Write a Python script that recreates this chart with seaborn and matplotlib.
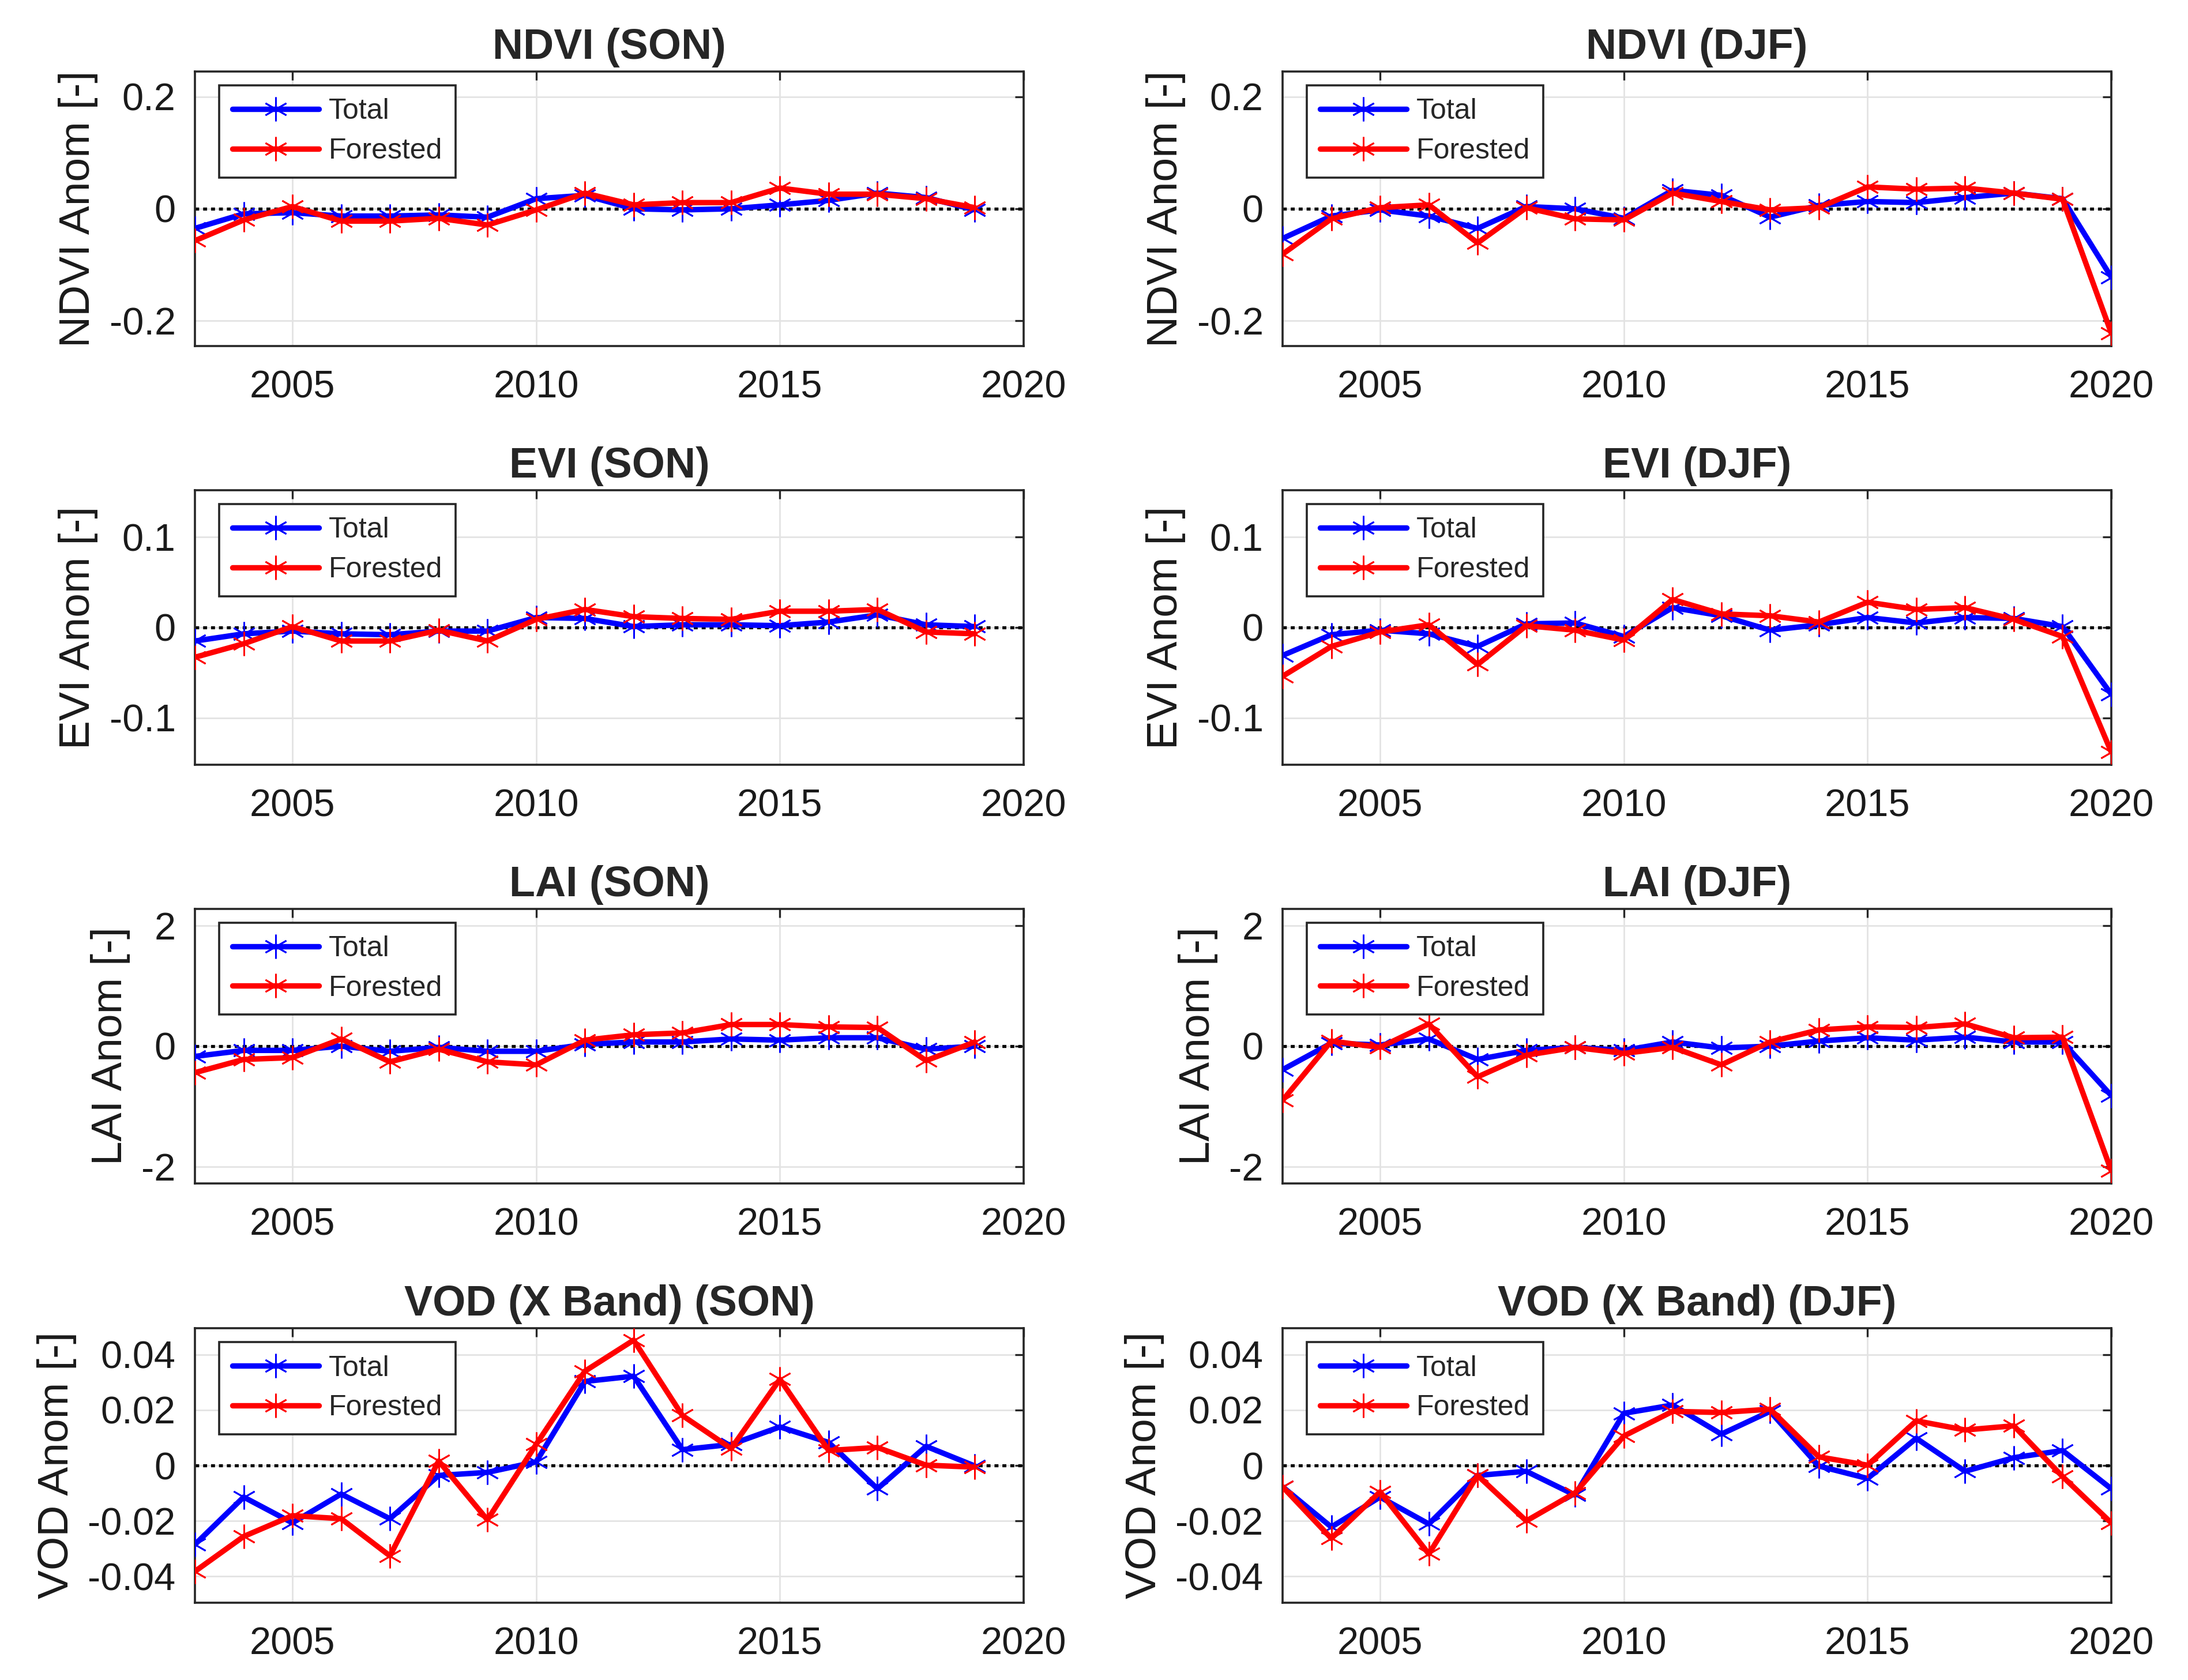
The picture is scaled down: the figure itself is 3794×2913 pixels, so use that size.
import numpy as np
import pandas as pd
import matplotlib
matplotlib.use("Agg")
import matplotlib.pyplot as plt
import seaborn as sns

sns.set_theme(style="white")
plt.rcParams['font.family'] = ['Liberation Sans', 'DejaVu Sans']
plt.rcParams['axes.unicode_minus'] = False

years_son = list(range(2003, 2020))
years_djf = list(range(2003, 2021))

ndvi_son_total = [-0.035, -0.009, -0.007, -0.013, -0.013, -0.011, -0.015, 0.018, 0.024, 0.0, -0.002, 0.0, 0.007, 0.015, 0.028, 0.020, -0.002]
ndvi_son_forest = [-0.057, -0.020, 0.004, -0.022, -0.022, -0.017, -0.029, -0.002, 0.028, 0.007, 0.011, 0.011, 0.037, 0.026, 0.026, 0.018, 0.002]
ndvi_djf_total = [-0.053, -0.013, -0.002, -0.013, -0.035, 0.004, 0.0, -0.017, 0.033, 0.024, -0.015, 0.006, 0.013, 0.011, 0.020, 0.028, 0.018, -0.122]
ndvi_djf_forest = [-0.081, -0.018, 0.002, 0.007, -0.061, 0.002, -0.018, -0.020, 0.028, 0.013, -0.002, 0.002, 0.039, 0.035, 0.037, 0.028, 0.017, -0.222]

evi_son_total = [-0.015, -0.007, -0.004, -0.007, -0.008, -0.004, -0.004, 0.011, 0.010, 0.001, 0.003, 0.003, 0.002, 0.006, 0.014, 0.003, 0.001]
evi_son_forest = [-0.033, -0.018, 0.001, -0.015, -0.015, -0.003, -0.015, 0.009, 0.020, 0.012, 0.010, 0.009, 0.018, 0.018, 0.020, -0.005, -0.007]
evi_djf_total = [-0.031, -0.008, -0.003, -0.007, -0.021, 0.004, 0.005, -0.010, 0.022, 0.013, -0.003, 0.003, 0.011, 0.005, 0.011, 0.010, 0.001, -0.074]
evi_djf_forest = [-0.054, -0.021, -0.005, 0.003, -0.041, 0.002, -0.003, -0.014, 0.031, 0.015, 0.013, 0.006, 0.028, 0.020, 0.022, 0.009, -0.010, -0.138]

lai_son_total = [-0.17, -0.07, -0.07, 0.0, -0.085, -0.02, -0.085, -0.085, 0.03, 0.07, 0.07, 0.12, 0.10, 0.14, 0.14, -0.05, 0.0]
lai_son_forest = [-0.44, -0.22, -0.19, 0.12, -0.26, -0.05, -0.26, -0.31, 0.10, 0.19, 0.22, 0.36, 0.36, 0.32, 0.31, -0.24, 0.07]
lai_djf_total = [-0.39, 0.05, 0.02, 0.12, -0.22, -0.07, -0.02, -0.07, 0.07, -0.03, 0.0, 0.085, 0.14, 0.10, 0.15, 0.07, 0.07, -0.82]
lai_djf_forest = [-0.90, 0.085, -0.02, 0.37, -0.51, -0.15, -0.02, -0.12, -0.02, -0.31, 0.07, 0.27, 0.32, 0.31, 0.37, 0.14, 0.15, -2.07]

vod_son_total = [-0.0285, -0.0114, -0.0207, -0.0103, -0.0192, -0.0036, -0.0025, 0.0013, 0.0303, 0.0322, 0.0057, 0.0076, 0.0139, 0.0083, -0.0084, 0.0069, -0.0002]
vod_son_forest = [-0.0382, -0.0256, -0.0181, -0.0192, -0.0326, 0.0016, -0.0196, 0.0076, 0.0340, 0.0452, 0.0180, 0.0061, 0.0311, 0.0054, 0.0065, 0.0001, -0.0006]
vod_djf_total = [-0.0077, -0.0222, -0.0114, -0.0211, -0.0036, -0.0021, -0.0107, 0.0188, 0.0218, 0.0113, 0.0195, -0.0002, -0.0047, 0.0098, -0.0021, 0.0028, 0.0054, -0.0084]
vod_djf_forest = [-0.0077, -0.0263, -0.0095, -0.0319, -0.0036, -0.0200, -0.0099, 0.0106, 0.0195, 0.0191, 0.0203, 0.0031, 0.0001, 0.0161, 0.0128, 0.0143, -0.0040, -0.0207]

titles = ["NDVI (SON)", "NDVI (DJF)", "EVI (SON)", "EVI (DJF)",
          "LAI (SON)", "LAI (DJF)", "VOD (X Band) (SON)", "VOD (X Band) (DJF)"]
ylabels = ["NDVI Anom [-]", "EVI Anom [-]", "LAI Anom [-]", "VOD Anom [-]"]
ylims = [0.245, 0.152, 2.28, 0.0495]
yticks = [[-0.2, 0, 0.2], [-0.1, 0, 0.1], [-2, 0, 2], [-0.04, -0.02, 0, 0.02, 0.04]]
xticks = [2005, 2010, 2015, 2020]
series_labels = ["Total", "Forested"]

panels = [
    (years_son, ndvi_son_total, ndvi_son_forest), (years_djf, ndvi_djf_total, ndvi_djf_forest),
    (years_son, evi_son_total, evi_son_forest), (years_djf, evi_djf_total, evi_djf_forest),
    (years_son, lai_son_total, lai_son_forest), (years_djf, lai_djf_total, lai_djf_forest),
    (years_son, vod_son_total, vod_son_forest), (years_djf, vod_djf_total, vod_djf_forest),
]

W, H = 3794, 2913
dpi = 200
fig = plt.figure(figsize=(W / dpi, H / dpi), dpi=dpi)

col_x_px = [338, 2224]
ax_w_px = 1437
row_top_px = [124, 850, 1576, 2303]
ax_h_px = 476

asterisk = (6, 2, 0)
colors = {"Total": "#0000ff", "Forested": "#ff0000"}

for i, (yrs, tot, fore) in enumerate(panels):
    r, c = divmod(i, 2)
    x0 = col_x_px[c] / W
    y0 = 1 - (row_top_px[r] + ax_h_px) / H
    ax = fig.add_axes([x0, y0, ax_w_px / W, ax_h_px / H])
    df = pd.DataFrame({"year": yrs * 2,
                       "value": list(tot) + list(fore),
                       "series": ["Total"] * len(yrs) + ["Forested"] * len(yrs)})
    ax.axhline(0, color="black", ls=(0, (1.3, 1.3)), lw=1.9, zorder=1)
    for s in series_labels:
        sub = df[df["series"] == s]
        sns.lineplot(data=sub, x="year", y="value", ax=ax, color=colors[s],
                     lw=3.4, marker=asterisk, markersize=15, markeredgewidth=1.0,
                     markeredgecolor=colors[s], label=s, zorder=3, estimator=None)
    lim = ylims[r]
    ax.set_ylim(-lim, lim)
    ax.set_xlim(2003, 2020)
    ax.set_xticks(xticks)
    ax.set_yticks(yticks[r])
    ax.set_yticklabels(["%g" % v for v in yticks[r]])
    ax.set_xticklabels([str(v) for v in xticks])
    ax.grid(True, color="#e3e3e3", lw=1.0)
    ax.set_axisbelow(True)
    for sp in ax.spines.values():
        sp.set_visible(True)
        sp.set_color("#262626")
        sp.set_linewidth(1.3)
    ax.tick_params(direction="in", top=True, right=True, length=5.5, width=1.2,
                   color="#262626", labelsize=24, pad=12, labelcolor="#1a1a1a")
    ax.tick_params(axis="x", pad=15)
    ax.set_xlabel("")
    ax.set_ylabel(ylabels[r], fontsize=27, color="#1a1a1a", labelpad=7)
    ax.set_title(titles[i], fontsize=26.5, fontweight="bold", pad=8)
    leg = ax.legend(loc="upper left", bbox_to_anchor=(42 / ax_w_px, 1 - 24 / ax_h_px),
                    borderaxespad=0, fontsize=18, frameon=True, fancybox=False,
                    edgecolor="#262626", framealpha=1, handlelength=3.0,
                    handletextpad=0.35, labelspacing=0.45, borderpad=0.45)
    leg.get_frame().set_linewidth(1.3)

fig.savefig("out.png", dpi=dpi)
